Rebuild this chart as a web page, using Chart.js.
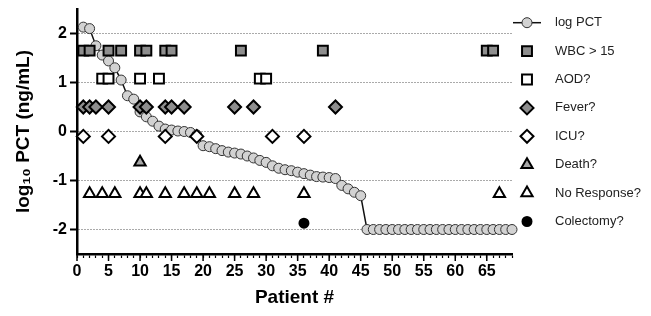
<!DOCTYPE html>
<html lang="en">
<head>
<meta charset="UTF-8">
<title>log PCT by patient</title>
<script src="https://cdn.jsdelivr.net/npm/chart.js@4"></script>
<style>
  body { margin: 0; background: #fff; }
  #wrap { width: 651px; height: 316px; }
</style>
</head>
<body>
<div id="wrap"><canvas id="chart"></canvas></div>
<script>
// patients, sorted by log10 PCT (high to low)
const patients = [
  1, 2, 3, 4, 5, 6, 7, 8, 9, 10, 11, 12, 13, 14, 15, 16, 17, 18, 19, 20,
  21, 22, 23, 24, 25, 26, 27, 28, 29, 30, 31, 32, 33, 34, 35, 36, 37, 38, 39, 40,
  41, 42, 43, 44, 45, 46, 47, 48, 49, 50, 51, 52, 53, 54, 55, 56, 57, 58, 59, 60,
  61, 62, 63, 64, 65, 66, 67, 68, 69
];
const logPct = [
  2.13, 2.10, 1.75, 1.56, 1.44, 1.30, 1.05, 0.73, 0.66, 0.40,
  0.30, 0.21, 0.11, 0.05, 0.03, 0.01, 0.00, -0.02, -0.07, -0.29,
  -0.31, -0.35, -0.39, -0.42, -0.44, -0.46, -0.50, -0.54, -0.59, -0.63,
  -0.70, -0.75, -0.78, -0.80, -0.83, -0.86, -0.89, -0.92, -0.93, -0.94,
  -0.96, -1.10, -1.17, -1.24, -1.31,
  -2, -2, -2, -2, -2, -2, -2, -2, -2, -2, -2, -2,
  -2, -2, -2, -2, -2, -2, -2, -2, -2, -2, -2, -2
];

// which patients have each flag
const wbcPatients = [1, 2, 5, 7, 10, 11, 14, 15, 26, 39, 65, 66];
const aodPatients = [4, 5, 10, 13, 29, 30];
const feverPatients = [1, 2, 3, 5, 10, 11, 14, 15, 17, 25, 28, 41];
const icuPatients = [1, 5, 14, 19, 31, 36];
const deathPatients = [10];
const noResponsePatients = [2, 4, 6, 10, 11, 14, 17, 19, 21, 25, 28, 36, 67];
const colectomyPatients = [36];

const flagLabels = ['WBC > 15', 'AOD?', 'Fever?', 'ICU?', 'Death?', 'No Response?', 'Colectomy?'];
const flagLevels = [1.65, 1.08, 0.5, -0.1, -0.63, -1.27, -1.87];
const flagPatients = [wbcPatients, aodPatients, feverPatients, icuPatients,
  deathPatients, noResponsePatients, colectomyPatients];

const yTicks = [-2, -1, 0, 1, 2];

const FONT = 'Arial, "Liberation Sans", sans-serif';

// marker look for each flag row
const flagStyles = [
  { pointStyle: 'rect', fill: '#8e8e8e', radius: 7 },
  { pointStyle: 'rect', fill: '#ffffff', radius: 7 },
  { pointStyle: 'rectRot', fill: '#8e8e8e', radius: 6.5 },
  { pointStyle: 'rectRot', fill: '#ffffff', radius: 6.5 },
  { pointStyle: 'triangle', fill: '#a8a8a8', radius: 6.5 },
  { pointStyle: 'triangle', fill: '#ffffff', radius: 6.5 },
  { pointStyle: 'circle', fill: '#000000', radius: 4.5 }
];

const datasets = [{
  label: 'log PCT',
  data: patients.map((p, i) => ({ x: p, y: logPct[i] })),
  showLine: true,
  borderColor: '#111',
  borderWidth: 1.5,
  pointStyle: 'circle',
  pointRadius: 5,
  pointBackgroundColor: '#d2d2d2',
  pointBorderColor: '#333',
  pointBorderWidth: 1,
  clip: false,
  order: 1
}];

flagLabels.forEach((label, k) => {
  datasets.push({
    label: label,
    data: flagPatients[k].map(p => ({ x: p, y: flagLevels[k] })),
    showLine: false,
    pointStyle: flagStyles[k].pointStyle,
    pointRadius: flagStyles[k].radius,
    pointBackgroundColor: flagStyles[k].fill,
    pointBorderColor: '#000',
    pointBorderWidth: 2,
    clip: false,
    order: 0
  });
});

// legend on the right + longer ticks every 5 patients
const extras = {
  id: 'extras',
  afterDraw(chart) {
    const ctx = chart.ctx;
    const area = chart.chartArea;
    const xs = chart.scales.x;

    ctx.save();
    ctx.strokeStyle = '#000';
    ctx.lineWidth = 1.5;
    xs.ticks.forEach(t => {
      if (t.value % 5 !== 0) return;
      const px = xs.getPixelForValue(t.value);
      ctx.beginPath();
      ctx.moveTo(px, area.bottom);
      ctx.lineTo(px, area.bottom + 7);
      ctx.stroke();
    });

    const cx = area.right + 15;
    chart.data.datasets.forEach((ds, i) => {
      const y = 22.7 + i * 28.4;
      if (ds.showLine) {
        ctx.strokeStyle = ds.borderColor;
        ctx.lineWidth = ds.borderWidth;
        ctx.beginPath();
        ctx.moveTo(cx - 14, y);
        ctx.lineTo(cx + 14, y);
        ctx.stroke();
      }
      ctx.fillStyle = ds.pointBackgroundColor;
      ctx.strokeStyle = ds.pointBorderColor;
      ctx.lineWidth = ds.pointBorderWidth;
      Chart.helpers.drawPoint(ctx, {
        pointStyle: ds.pointStyle, radius: ds.pointRadius,
        rotation: 0, borderWidth: ds.pointBorderWidth
      }, cx, y);
      ctx.fillStyle = '#222';
      ctx.font = '13px ' + FONT;
      ctx.textAlign = 'left';
      ctx.textBaseline = 'middle';
      ctx.fillText(ds.label, cx + 28, y);
    });
    ctx.restore();
  }
};

new Chart(document.getElementById('chart'), {
  type: 'scatter',
  data: { datasets: datasets },
  options: {
    responsive: true,
    maintainAspectRatio: false,
    animation: false,
    events: [],
    layout: { padding: { left: 0, right: 139, top: 7, bottom: 0 } },
    plugins: {
      legend: { display: false },
      tooltip: { enabled: false }
    },
    scales: {
      x: {
        type: 'linear',
        min: 0,
        max: 69,
        afterFit: s => { s.height = 62; s.paddingLeft = 0; s.paddingRight = 0; },
        ticks: {
          stepSize: 1,
          autoSkip: false,
          maxRotation: 0,
          padding: 4,
          color: '#000',
          font: { family: FONT, size: 16, weight: 'bold' },
          callback: v => (v % 5 === 0 ? v : '')
        },
        grid: { drawOnChartArea: false, tickLength: 4, tickColor: '#000', tickWidth: 1.2 },
        border: { color: '#000', width: 2.5 },
        title: {
          display: true,
          text: 'Patient #',
          color: '#000',
          font: { family: FONT, size: 19, weight: 'bold' },
          padding: { top: 0, bottom: 7 }
        }
      },
      y: {
        min: -2.5,
        max: 2.5,
        afterBuildTicks: s => { s.ticks = yTicks.map(v => ({ value: v })); },
        afterFit: s => { s.width = 77; s.paddingTop = 0; s.paddingBottom = 0; },
        ticks: {
          padding: 3,
          color: '#000',
          font: { family: FONT, size: 16, weight: 'bold' }
        },
        grid: {
          color: '#555',
          lineWidth: 1,
          tickLength: 7,
          tickColor: '#000',
          tickWidth: 2,
          tickBorderDash: []
        },
        border: { color: '#000', width: 2.5, dash: [1, 2] },
        title: {
          display: true,
          text: 'log₁₀ PCT (ng/mL)',
          color: '#000',
          font: { family: FONT, size: 19, weight: 'bold' },
          padding: { top: 12, bottom: 0 }
        }
      }
    }
  },
  plugins: [extras]
});
</script>
</body>
</html>
